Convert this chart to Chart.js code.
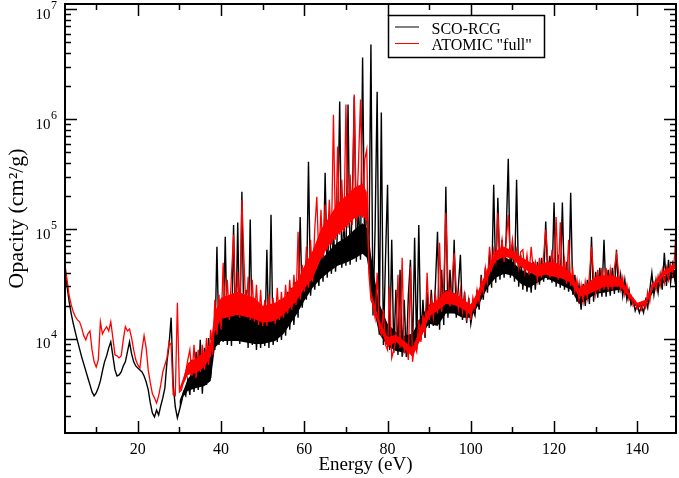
<!DOCTYPE html>
<html>
<head>
<meta charset="utf-8">
<script src="https://cdn.jsdelivr.net/npm/chart.js@4.4.0/dist/chart.umd.min.js"></script>
<style>
  html, body { margin: 0; padding: 0; background: #fff; }
</style>
</head>
<body>
<canvas id="opacity" width="679" height="478"></canvas>
<script>
// photon energy grid (eV)
const energy = [
  2.5, 3, 3.5, 4, 4.5, 5, 5.5, 6, 6.5, 7,
  7.5, 8, 8.5, 9, 9.5, 10, 10.5, 11, 11.5, 12,
  12.5, 13, 13.5, 14, 14.5, 15, 15.5, 16, 16.5, 17,
  17.5, 18, 18.5, 19, 19.5, 20, 20.5, 21, 21.5, 22,
  22.5, 23, 23.5, 24, 24.5, 25, 25.5, 26, 26.5, 27,
  27.5, 28, 28.5, 29, 29.5, 30, 30.5, 31, 31.5, 32,
  32.5, 33, 33.5, 34, 34.5, 35, 35.5, 36, 36.5, 37,
  37.5, 38, 38.5, 39, 39.5, 40, 40.5, 41, 41.5, 42,
  42.5, 43, 43.5, 44, 44.5, 45, 45.5, 46, 46.5, 47,
  47.5, 48, 48.5, 49, 49.5, 50, 50.5, 51, 51.5, 52,
  52.5, 53, 53.5, 54, 54.5, 55, 55.5, 56, 56.5, 57,
  57.5, 58, 58.5, 59, 59.5, 60, 60.5, 61, 61.5, 62,
  62.5, 63, 63.5, 64, 64.5, 65, 65.5, 66, 66.5, 67,
  67.5, 68, 68.5, 69, 69.5, 70, 70.5, 71, 71.5, 72,
  72.5, 73, 73.5, 74, 74.5, 75, 75.5, 76, 76.5, 77,
  77.5, 78, 78.5, 79, 79.5, 80, 80.5, 81, 81.5, 82,
  82.5, 83, 83.5, 84, 84.5, 85, 85.5, 86, 86.5, 87,
  87.5, 88, 88.5, 89, 89.5, 90, 90.5, 91, 91.5, 92,
  92.5, 93, 93.5, 94, 94.5, 95, 95.5, 96, 96.5, 97,
  97.5, 98, 98.5, 99, 99.5, 100, 100.5, 101, 101.5, 102,
  102.5, 103, 103.5, 104, 104.5, 105, 105.5, 106, 106.5, 107,
  107.5, 108, 108.5, 109, 109.5, 110, 110.5, 111, 111.5, 112,
  112.5, 113, 113.5, 114, 114.5, 115, 115.5, 116, 116.5, 117,
  117.5, 118, 118.5, 119, 119.5, 120, 120.5, 121, 121.5, 122,
  122.5, 123, 123.5, 124, 124.5, 125, 125.5, 126, 126.5, 127,
  127.5, 128, 128.5, 129, 129.5, 130, 130.5, 131, 131.5, 132,
  132.5, 133, 133.5, 134, 134.5, 135, 135.5, 136, 136.5, 137,
  137.5, 138, 138.5, 139, 139.5, 140, 140.5, 141, 141.5, 142,
  142.5, 143, 143.5, 144, 144.5, 145, 145.5, 146, 146.5, 147,
  147.5, 148, 148.5, 149, 149.5
]

// SCO-RCG opacity (cm2/g)
const scoRcg = [
  4.1e4, 3.0e4, 2.18e4, 1.69e4, 1.37e4, 1.14e4, 9.58e3, 8.11e3, 6.86e3, 5.92e3,
  5.11e3, 4.41e3, 3.81e3, 3.29e3, 3.03e3, 3.22e3, 3.58e3, 4.14e3, 5.11e3, 6.18e3,
  7.0e3, 8.28e3, 9.39e3, 7.0e3, 5.22e3, 4.6e3, 4.7e3, 5.0e3, 5.67e3, 6.18e3,
  7.61e3, 9.39e3, 7.3e3, 6.18e3, 5.67e3, 5.44e3, 5.22e3, 5.0e3, 4.6e3, 4.06e3,
  3.43e3, 2.61e3, 2.11e3, 1.95e3, 2.25e3, 2.03e3, 2.45e3, 2.9e3, 3.58e3, 6.18e3,
  8.82e3, 1.56e4, 3.81e3, 2.4e3, 1.91e3, 2.25e3, 2.67e3, 3.29e3, 3.03e3, 4.23e3,
  3.09e3, 6.44e3, 3.29e3, 7.61e3, 3.43e3, 9.79e3, 3.16e3, 8.28e3, 3.81e3, 1.02e4,
  4.41e3, 1.09e4, 7.94e3, 6.9e4, 8.82e3, 2.27e4, 9.39e3, 8.5e4, 8.82e3, 2.37e4,
  8.63e3, 1.09e5, 9.79e3, 1.15e5, 9.0e3, 2.19e5, 1.02e4, 2.8e4, 8.28e3, 1.22e5,
  8.82e3, 2.27e4, 7.94e3, 2.04e4, 8.28e3, 1.84e4, 8.63e3, 6.48e4, 8.28e3, 1.35e5,
  8.82e3, 2.04e4, 9.39e3, 2.27e4, 9.79e3, 2.37e4, 1.07e4, 2.69e4, 1.21e4, 2.92e4,
  1.34e4, 3.31e4, 1.56e4, 1.29e5, 1.92e4, 3.6e4, 2.27e4, 4.1e5, 2.47e4, 4.73e4,
  2.8e4, 5.47e4, 3.04e4, 7.99e4, 3.31e4, 3.26e5, 3.6e4, 1.35e5, 3.91e4, 9.45e4,
  4.08e4, 1.03e5, 1.45e6, 4.44e4, 1.22e5, 4.63e4, 1.36e6, 4.73e4, 1.5e5, 1.61e6,
  5.03e4, 1.67e5, 5.25e4, 3.64e6, 5.83e4, 1.85e5, 4.73e4, 4.79e6, 1.63e4, 9.85e4,
  1.78e6, 1.09e4, 1.15e6, 8.82e3, 5.25e4, 2.53e5, 7.94e3, 7.99e4, 7.46e3, 2.8e4,
  7.15e3, 4.26e4, 6.86e3, 2.27e4, 6.86e3, 2.52e4, 5.25e4, 7.0e3, 8.33e4, 7.94e3,
  1.09e5, 9.79e3, 2.27e4, 1.02e4, 2.69e4, 1.26e4, 2.8e4, 1.31e4, 3.11e4, 9.45e4,
  1.21e4, 4.26e4, 1.34e4, 2.43e5, 1.56e4, 4.26e4, 1.73e4, 7.99e4, 1.56e4, 2.92e4,
  5.83e4, 1.49e4, 2.69e4, 1.4e4, 2.37e4, 1.37e4, 1.84e4, 1.63e4, 2.8e4, 1.84e4,
  3.83e4, 2.27e4, 4.44e4, 2.63e4, 5.83e4, 2.92e4, 2.53e5, 3.24e4, 1.93e5, 3.45e4,
  7.99e4, 3.6e4, 8.87e4, 4.37e5, 3.6e4, 7.19e4, 3.31e4, 2.81e5, 2.98e4, 5.83e4,
  2.8e4, 5.03e4, 2.69e4, 4.73e4, 2.63e4, 5.03e4, 2.8e4, 5.03e4, 3.11e4, 5.47e4,
  3.31e4, 1.17e5, 3.45e4, 5.71e4, 3.24e4, 1.74e5, 2.98e4, 5.83e4, 2.92e4, 1.74e5,
  2.8e4, 5.03e4, 2.69e4, 2.14e5, 2.52e4, 3.83e4, 2.18e4, 3.11e4, 1.84e4, 3.17e4,
  2.0e4, 3.45e4, 2.08e4, 8.5e4, 2.18e4, 4.08e4, 2.37e4, 4.44e4, 2.42e4, 7.99e4,
  2.42e4, 4.26e4, 2.47e4, 4.44e4, 2.57e4, 6.48e4, 2.63e4, 3.83e4, 2.47e4, 3.45e4,
  2.27e4, 2.8e4, 2.04e4, 2.27e4, 1.8e4, 2.04e4, 1.73e4, 2.0e4, 1.73e4, 2.27e4,
  1.92e4, 2.8e4, 3.99e4, 2.52e4, 3.45e4, 2.63e4, 3.83e4, 2.8e4, 6.08e4, 3.04e4,
  5.25e4, 3.24e4, 4.73e4, 3.45e4, 5.03e4
]

// ATOMIC "full" opacity (cm2/g)
const atomicFull = [
  4.73e4, 3.45e4, 2.47e4, 2.04e4, 1.76e4, 1.59e4, 1.49e4, 1.43e4, 1.26e4, 1.07e4,
  9.79e3, 1.11e4, 1.18e4, 7.94e3, 6.18e3, 5.55e3, 6.44e3, 1.43e4, 1.11e4, 1.21e4,
  1.29e4, 1.18e4, 1.43e4, 1.02e4, 7.15e3, 7.0e3, 6.71e3, 7.0e3, 9.79e3, 1.29e4,
  1.18e4, 1.23e4, 1.02e4, 7.94e3, 6.44e3, 5.79e3, 5.44e3, 7.94e3, 1.07e4, 8.28e3,
  5.22e3, 3.97e3, 3.16e3, 2.9e3, 2.61e3, 3.03e3, 3.81e3, 5.0e3, 5.79e3, 6.71e3,
  9.39e3, 8.82e3, 3.09e3, 3.03e3, 2.13e4, 3.29e3, 3.43e3, 4.23e3, 5.0e3, 6.44e3,
  7.94e3, 4.6e3, 8.82e3, 4.41e3, 7.94e3, 5.0e3, 8.82e3, 5.22e3, 1.02e4, 5.79e3,
  1.21e4, 7.15e3, 2.27e4, 1.09e4, 2.52e4, 1.21e4, 4.93e4, 1.56e4, 3.45e4, 1.49e4,
  3.83e4, 8.87e4, 1.66e4, 4.08e4, 1.56e4, 1.85e5, 5.25e4, 1.66e4, 3.67e4, 1.49e4,
  3.45e4, 1.43e4, 3.11e4, 1.34e4, 2.8e4, 1.31e4, 2.27e4, 1.31e4, 2.52e4, 1.43e4,
  2.37e4, 1.37e4, 2.92e4, 1.49e4, 2.69e4, 1.56e4, 3.11e4, 1.7e4, 3.45e4, 1.84e4,
  3.83e4, 2.04e4, 9.45e4, 2.27e4, 4.73e4, 2.69e4, 6.9e4, 2.92e4, 7.99e4, 3.31e4,
  9.85e4, 1.97e5, 5.03e4, 1.5e5, 5.47e4, 1.67e5, 6.48e4, 1.85e5, 7.19e4, 1.1e6,
  7.99e4, 5.63e5, 8.87e4, 2.81e5, 9.45e4, 1.36e6, 1.03e5, 3.13e5, 1.09e5, 1.68e6,
  1.17e5, 3.86e5, 1.51e6, 1.27e5, 4.28e5, 5.28e5, 3.99e4, 2.27e4, 2.04e4, 1.56e4,
  3.99e4, 1.26e4, 1.09e4, 1.84e4, 8.82e3, 7.94e3, 2.98e4, 6.71e3, 7.94e3, 9.79e3,
  3.83e4, 8.28e3, 5.47e4, 7.61e3, 8.82e3, 6.44e3, 4.54e4, 6.18e3, 8.82e3, 7.61e3,
  1.49e4, 9.39e3, 1.66e4, 1.09e4, 3.99e4, 1.49e4, 2.27e4, 1.56e4, 2.52e4, 1.7e4,
  7.5e4, 1.76e4, 3.11e4, 1.41e5, 3.45e4, 1.96e4, 3.31e4, 6.08e4, 2.92e4, 1.88e4,
  2.8e4, 1.76e4, 2.52e4, 1.56e4, 2.27e4, 1.49e4, 2.37e4, 1.92e4, 2.8e4, 2.18e4,
  3.45e4, 2.69e4, 4.44e4, 3.31e4, 6.9e4, 4.44e4, 6.48e4, 5.03e4, 1.41e5, 5.47e4,
  7.99e4, 5.03e4, 7.66e4, 1.35e5, 5.47e4, 7.99e4, 5.03e4, 6.48e4, 4.44e4, 6.21e4,
  6.48e4, 4.08e4, 5.83e4, 3.83e4, 6.9e4, 4.26e4, 5.03e4, 3.45e4, 5.47e4, 3.6e4,
  5.83e4, 9.85e4, 5.25e4, 3.6e4, 6.48e4, 4.08e4, 1.29e5, 3.45e4, 1.15e5, 3.6e4,
  5.25e4, 3.17e4, 7.99e4, 3.04e4, 4.26e4, 2.69e4, 3.45e4, 2.27e4, 3.11e4, 2.18e4,
  3.31e4, 2.37e4, 3.83e4, 6.9e4, 3.75e4, 2.57e4, 4.26e4, 2.69e4, 4.44e4, 2.8e4,
  4.44e4, 2.74e4, 4.26e4, 2.8e4, 4.44e4, 5.95e4, 4.08e4, 2.8e4, 3.6e4, 2.52e4,
  3.11e4, 2.27e4, 2.47e4, 2.0e4, 2.18e4, 1.88e4, 2.08e4, 1.84e4, 2.13e4, 1.92e4,
  2.69e4, 2.18e4, 3.11e4, 3.31e4, 2.8e4, 3.75e4, 3.04e4, 4.26e4, 3.24e4, 4.44e4,
  3.45e4, 4.73e4, 3.83e4, 5.83e4, 1.5e5
]

// solid core of the dense line forest (bottom and top edges), eV
const bandEnergy = [
  30, 31, 32, 34, 36, 37.5, 38.5, 40, 44, 48, 50,
  53, 55, 58, 60, 62, 64, 66, 68, 70, 72, 74,
  75, 75.5, 76, 77, 78, 80, 82, 84, 86, 88,
  90, 92, 94, 96, 98, 100, 102, 104, 106, 108,
  110, 112, 114, 116, 118, 120, 122, 124, 126, 128,
  130, 132, 134, 136, 138, 140, 142, 144, 146, 148, 150
]
const scoBandLow = [
  2.35e3, 3.03e3, 3.36e3, 3.58e3, 3.73e3, 4.14e3, 8.28e3, 9.58e3, 9.58e3, 9.0e3, 9.0e3,
  9.58e3, 1.11e4, 1.63e4, 2.22e4, 2.92e4, 3.52e4, 4.08e4, 4.63e4, 4.93e4, 5.36e4, 5.95e4,
  5.47e4, 4.17e4, 2.47e4, 1.63e4, 1.11e4, 8.63e3, 7.77e3, 7.46e3, 7.77e3, 1.07e4,
  1.37e4, 1.31e4, 1.7e4, 1.7e4, 1.56e4, 1.56e4, 2.08e4, 2.92e4, 3.6e4, 3.91e4,
  3.75e4, 3.17e4, 2.92e4, 3.24e4, 3.6e4, 3.31e4, 3.04e4, 2.8e4, 2.08e4, 2.27e4,
  2.57e4, 2.63e4, 2.74e4, 2.8e4, 2.32e4, 1.92e4, 2.0e4, 2.74e4, 3.17e4, 3.52e4, 3.75e4
]
const scoBandHigh = [
  2.72e3, 3.43e3, 4.32e3, 5.44e3, 5.92e3, 7.0e3, 1.26e4, 1.63e4, 1.68e4, 1.56e4, 1.43e4,
  1.52e4, 1.76e4, 2.42e4, 3.08e4, 4.04e4, 5.25e4, 6.35e4, 7.6e4, 8.33e4, 9.85e4, 1.13e5,
  1.03e5, 8.7e4, 5.9e4, 3.38e4, 2.11e4, 1.37e4, 1.16e4, 1.07e4, 1.12e4, 1.59e4,
  2.06e4, 2.08e4, 2.8e4, 2.55e4, 2.15e4, 2.06e4, 2.74e4, 4.04e4, 5.14e4, 5.65e4,
  5.03e4, 4.26e4, 3.91e4, 4.3e4, 4.73e4, 4.58e4, 4.08e4, 3.49e4, 2.63e4, 2.89e4,
  3.38e4, 3.49e4, 3.52e4, 3.34e4, 2.47e4, 2.0e4, 2.18e4, 2.98e4, 3.64e4, 4.08e4, 4.44e4
]
const atomicBandLow = [
  3.29e3, 3.89e3, 4.7e3, 4.9e3, 5.55e3, 6.86e3, 1.16e4, 1.52e4, 1.66e4, 1.52e4, 1.4e4,
  1.46e4, 1.66e4, 2.18e4, 2.86e4, 3.52e4, 5.36e4, 7.19e4, 8.87e4, 1.05e5, 1.25e5, 1.35e5,
  1.17e5, 4.26e4, 2.42e4, 1.66e4, 1.29e4, 8.46e3, 9.39e3, 8.11e3, 6.86e3, 1.0e4,
  1.59e4, 1.8e4, 2.08e4, 2.04e4, 1.88e4, 1.66e4, 2.32e4, 3.52e4, 5.14e4, 5.59e4,
  5.36e4, 4.54e4, 4.08e4, 3.67e4, 3.83e4, 3.67e4, 3.52e4, 3.24e4, 2.42e4, 2.52e4,
  2.74e4, 2.98e4, 2.98e4, 2.98e4, 2.42e4, 2.0e4, 2.04e4, 2.98e4, 3.67e4, 4.08e4, 4.54e4
]
const atomicBandHigh = [
  3.54e3, 4.51e3, 6.04e3, 6.71e3, 7.61e3, 9.39e3, 1.76e4, 2.37e4, 2.69e4, 2.37e4, 2.0e4,
  2.13e4, 2.34e4, 3.21e4, 4.63e4, 6.34e4, 9.96e4, 1.29e5, 1.72e5, 2.0e5, 2.38e5, 2.6e5,
  2.17e5, 5.47e4, 2.8e4, 2.0e4, 1.49e4, 1.04e4, 1.09e4, 9.58e3, 8.28e3, 1.31e4,
  2.0e4, 2.27e4, 2.74e4, 2.63e4, 2.32e4, 2.04e4, 2.86e4, 4.35e4, 6.34e4, 6.9e4,
  6.35e4, 5.59e4, 5.03e4, 4.68e4, 4.98e4, 5.03e4, 4.58e4, 3.99e4, 2.89e4, 3.21e4,
  3.67e4, 3.79e4, 3.79e4, 3.56e4, 2.69e4, 2.13e4, 2.27e4, 3.21e4, 4.08e4, 4.58e4, 5.25e4
]

// axis ticks
const xMajorTicks = [20, 40, 60, 80, 100, 120, 140]
const xMinorTicks = [10, 30, 50, 70, 90, 110, 130]
const yDecades = [4, 5, 6, 7]
const yMinorMantissas = [2, 3, 4, 5, 6, 7, 8, 9]

const SERIF = '"Liberation Serif", "Times New Roman", serif'

const pts = (xs, ys) => xs.map((x, i) => ({ x, y: ys[i] }))

// xmgrace-style frame: inward ticks on all four sides, 10^n labels, x title, legend box
const framePlugin = {
  id: 'frame',
  afterDraw (chart) {
    const { ctx, chartArea: a } = chart
    const xs = chart.scales.x
    const ys = chart.scales.y
    ctx.save()
    ctx.strokeStyle = '#000'
    ctx.fillStyle = '#000'
    ctx.lineWidth = 1.5

    const xTick = (v, len) => {
      const px = Math.round(xs.getPixelForValue(v)) + 0.5
      ctx.beginPath()
      ctx.moveTo(px, a.bottom); ctx.lineTo(px, a.bottom - len)
      ctx.moveTo(px, a.top); ctx.lineTo(px, a.top + len)
      ctx.stroke()
    }
    const yTick = (v, len) => {
      const py = Math.round(ys.getPixelForValue(v)) + 0.5
      ctx.beginPath()
      ctx.moveTo(a.left, py); ctx.lineTo(a.left + len, py)
      ctx.moveTo(a.right, py); ctx.lineTo(a.right - len, py)
      ctx.stroke()
    }
    xMajorTicks.forEach(v => xTick(v, 12))
    xMinorTicks.forEach(v => xTick(v, 6))
    for (let d = 3; d <= 7; d++) {
      const dec = Math.pow(10, d)
      if (dec >= ys.min && dec <= ys.max) yTick(dec, 12)
      yMinorMantissas.forEach(m => {
        const v = m * dec
        if (v > ys.min && v < ys.max) yTick(v, 6)
      })
    }

    ctx.lineWidth = 2
    ctx.strokeRect(a.left, a.top, a.right - a.left, a.bottom - a.top)

    // y tick labels as 10 with superscript exponent
    yDecades.forEach(d => {
      const py = ys.getPixelForValue(Math.pow(10, d))
      ctx.font = '15px ' + SERIF
      ctx.textAlign = 'right'
      ctx.textBaseline = 'alphabetic'
      ctx.fillText('10', 50.5, py + 9.5)
      ctx.font = '12px ' + SERIF
      ctx.textAlign = 'left'
      ctx.fillText(String(d), 51, py - 0.5)
    })

    // x axis title (sits a little left of the plot centre in the original)
    ctx.font = '19px ' + SERIF
    ctx.textAlign = 'center'
    ctx.textBaseline = 'middle'
    ctx.fillText('Energy (eV)', 365.5, 465)

    // legend
    const lx = 388.5, ly = 15.5
    ctx.fillStyle = '#fff'
    ctx.fillRect(lx, ly, 156, 42)
    ctx.lineWidth = 1.5
    ctx.strokeStyle = '#000'
    ctx.strokeRect(lx, ly, 156, 42)
    ctx.font = '16px ' + SERIF
    ctx.textAlign = 'left'
    ctx.textBaseline = 'alphabetic'
    chart.data.datasets.filter(ds => ds.inLegend).forEach((ds, i) => {
      const y = 27 + i * 16.5
      ctx.strokeStyle = ds.borderColor
      ctx.lineWidth = 1
      ctx.beginPath()
      ctx.moveTo(395, y); ctx.lineTo(419, y)
      ctx.stroke()
      ctx.fillStyle = '#000'
      ctx.fillText(ds.label, 431.5, y + 6.5)
    })
    ctx.restore()
  }
}

const band = (label, data, color, order, fill) => ({
  label, data, fill, order,
  backgroundColor: color,
  borderColor: color,
  borderWidth: 0,
  pointRadius: 0
})

new Chart(document.getElementById('opacity'), {
  type: 'line',
  data: {
    datasets: [
      band('SCO-RCG band top', pts(bandEnergy, scoBandHigh), '#000000', 5, '+1'),
      band('SCO-RCG band bottom', pts(bandEnergy, scoBandLow), '#000000', 5, false),
      {
        label: 'SCO-RCG',
        inLegend: true,
        data: pts(energy, scoRcg),
        borderColor: '#000000',
        borderWidth: 1.4,
        pointRadius: 0,
        fill: false,
        order: 4
      },
      band('ATOMIC band top', pts(bandEnergy, atomicBandHigh), '#ff0000', 3, '+1'),
      band('ATOMIC band bottom', pts(bandEnergy, atomicBandLow), '#ff0000', 3, false),
      {
        label: 'ATOMIC "full"',
        inLegend: true,
        data: pts(energy, atomicFull),
        borderColor: '#ff0000',
        borderWidth: 1.3,
        pointRadius: 0,
        fill: false,
        order: 2
      }
    ]
  },
  options: {
    responsive: false,
    animation: false,
    events: [],
    layout: { padding: { top: 4, right: 3, left: 0, bottom: 0 } },
    elements: { line: { tension: 0 } },
    plugins: { legend: { display: false }, tooltip: { enabled: false } },
    scales: {
      x: {
        type: 'linear',
        min: 2.5,
        max: 149.3,
        grid: { display: false, drawTicks: false },
        border: { display: false },
        ticks: {
          stepSize: 20,
          includeBounds: false,
          autoSkip: false,
          maxRotation: 0,
          padding: 7,
          color: '#000',
          font: { family: SERIF, size: 16 }
        },
        title: { display: false },
        afterFit: s => { s.height = 45 }
      },
      y: {
        type: 'logarithmic',
        min: 1390,
        max: 1.12e7,
        grid: { display: false, drawTicks: false },
        border: { display: false },
        ticks: { display: false },
        title: {
          display: true,
          text: 'Opacity (cm²/g)',
          color: '#000',
          font: { family: SERIF, size: 22 },
          padding: { top: 4, bottom: 0 }
        },
        afterFit: s => { s.width = 65 }
      }
    }
  },
  plugins: [framePlugin]
})
</script>
</body>
</html>
